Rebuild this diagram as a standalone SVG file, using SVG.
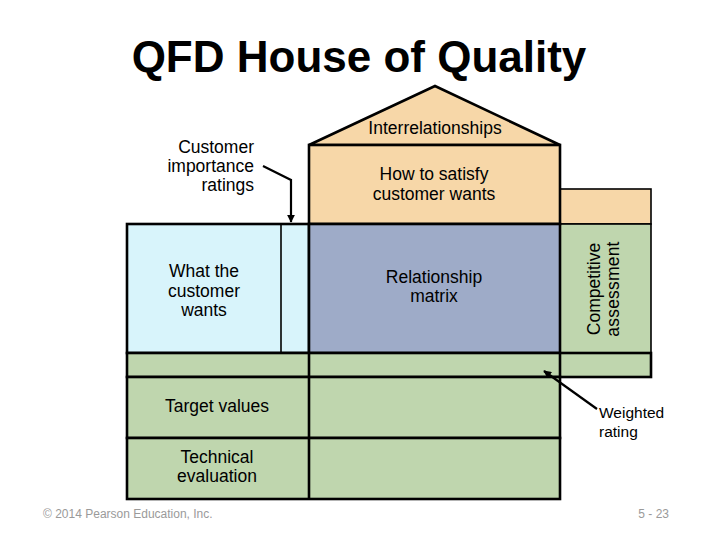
<svg xmlns="http://www.w3.org/2000/svg" width="720" height="540" viewBox="0 0 720 540">
<style>
text{font-family:"Liberation Sans",Arial,sans-serif;fill:#000}
.lbl{font-size:17.5px}
.sm{font-size:15.5px}
.c{text-anchor:middle}
.box{stroke:#000;stroke-width:2.6}
.thin{stroke:#000;stroke-width:1.6}
.or{fill:#f7d7a8}
.bl{fill:#d8f4fb}
.mx{fill:#9eabc8}
.gr{fill:#bfd6ae}
.conn{fill:none;stroke:#000;stroke-width:2.2}
.foot{font-size:12px;fill:#9a9a9a}
</style>
<defs>
<marker id="ah" viewBox="0 0 10 10" refX="9" refY="5" markerWidth="3.6" markerHeight="3.6" orient="auto" markerUnits="strokeWidth">
<path d="M0,0 L10,5 L0,10 z" fill="#000"/>
</marker>
</defs>
<rect width="720" height="540" fill="#fff"/>
<text x="359" y="72" font-size="44" font-weight="bold" class="c">QFD House of Quality</text>

<g id="right-top">
<rect x="560" y="189" width="91" height="35" class="or thin"/>
</g>
<g id="competitive">
<rect x="560" y="224" width="91" height="129" class="gr thin"/>
<text class="lbl c" transform="translate(600,289) rotate(-90)">Competitive</text>
<text class="lbl c" transform="translate(619,289) rotate(-90)" letter-spacing="0.2">assessment</text>
</g>
<g id="roof">
<polygon points="309,145 435,86 560,145" class="or box" stroke-linejoin="miter"/>
<text x="435" y="134" class="lbl c">Interrelationships</text>
</g>
<g id="how">
<rect x="309" y="145" width="251" height="79" class="or box"/>
<text x="434" y="180" class="lbl c">How to satisfy</text>
<text x="434" y="200" class="lbl c">customer wants</text>
</g>
<g id="whats">
<rect x="127" y="224" width="182" height="129" class="bl box"/>
<line x1="281" y1="224" x2="281" y2="353" class="thin"/>
<text x="204" y="277" class="lbl c">What the</text>
<text x="204" y="297" class="lbl c">customer</text>
<text x="204" y="316" class="lbl c">wants</text>
</g>
<g id="matrix">
<rect x="309" y="224" width="251" height="129" class="mx box"/>
<text x="434" y="283" class="lbl c">Relationship</text>
<text x="434" y="302" class="lbl c">matrix</text>
</g>
<g id="weighted-row">
<rect x="127" y="353" width="524" height="24" class="gr box"/>
<line x1="309" y1="353" x2="309" y2="377" class="box"/>
<line x1="560" y1="353" x2="560" y2="377" class="box"/>
</g>
<g id="target">
<rect x="127" y="377" width="433" height="61" class="gr box"/>
<line x1="309" y1="377" x2="309" y2="438" class="box"/>
<text x="217" y="412" class="lbl c">Target values</text>
</g>
<g id="technical">
<rect x="127" y="438" width="433" height="61" class="gr box"/>
<line x1="309" y1="438" x2="309" y2="499" class="box"/>
<text x="217" y="463" class="lbl c">Technical</text>
<text x="217" y="482" class="lbl c">evaluation</text>
</g>
<g id="importance-label">
<text x="254" y="153" class="lbl" text-anchor="end">Customer</text>
<text x="254" y="172" class="lbl" text-anchor="end">importance</text>
<text x="254" y="191" class="lbl" text-anchor="end">ratings</text>
</g>
<g id="weighted-label">
<text x="599" y="418" class="sm">Weighted</text>
<text x="599" y="437" class="sm">rating</text>
</g>
<g id="connectors">
<polyline points="263,166 291,180 291,222" class="conn" marker-end="url(#ah)"/>
<line x1="597" y1="409" x2="544" y2="371" class="conn" marker-end="url(#ah)"/>
</g>
<text x="43" y="518" class="foot">© 2014 Pearson Education, Inc.</text>
<text x="669" y="518" class="foot" text-anchor="end">5 - 23</text>
</svg>
